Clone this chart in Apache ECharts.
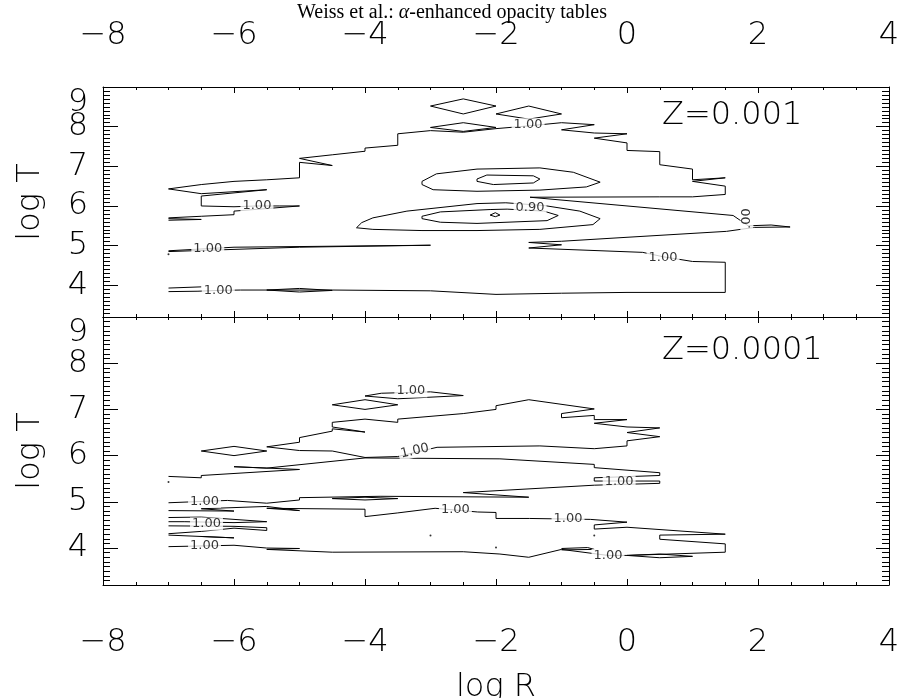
<!DOCTYPE html>
<html><head><meta charset="utf-8">
<script src="https://cdn.jsdelivr.net/npm/echarts@6/dist/echarts.min.js"></script>
<style>html,body{margin:0;padding:0;background:#fff}#c{width:902px;height:698px}</style>
</head><body><div id="c"></div>
<script>
// ---------- axis ticks ----------
const yMajorTicks = [4, 5, 6, 7, 8, 9];
const yLabelTicks = [4, 5, 6, 7, 8];
const yTopLabel = [9];
const panelTitles = ['Z=0.001', 'Z=0.0001'];

// ---------- TOP PANEL (Z=0.001) contour paths [log R, log T] ----------
const topOuter = [[-7.0,6.43],[-6.5,6.54],[-6.0,6.62],[-5.5,6.66],[-5.0,6.71],[-5.0,7.10],[-4.5,7.02],[-5.0,7.20],[-4.5,7.29],[-4.0,7.38],[-4.0,7.46],[-3.5,7.53],[-3.5,7.82],[-3.0,7.90],[-2.5,7.86],[-2.0,7.95],[-1.5,8.02],[-1.0,8.10],[-0.5,8.05],[-1.0,7.92],[-0.5,7.84],[0.0,7.82],[-0.5,7.71],[0.0,7.59],[0.0,7.40],[0.5,7.37],[0.5,7.04],[1.0,6.93],[1.0,6.66],[1.5,6.71],[1.0,6.62],[1.5,6.50],[1.5,6.29],[1.0,6.23],[0.5,6.23],[-1.48,6.22],[-1.5,6.20],[1.62,5.76],[1.85,5.50],[2.2,5.52],[2.49,5.47],[1.95,5.46],[1.52,5.36],[1.5,5.32],[0.0,5.21],[0.0,5.16],[-1.0,5.11],[-1.5,5.08],[-1.0,5.02],[-1.5,4.94],[0.24,4.83],[0.55,4.72],[1.0,4.60],[1.5,4.58],[1.5,3.82],[0.0,3.82],[-1.0,3.80],[-2.0,3.77],[-3.0,3.86],[-4.5,3.88],[-5.9,3.88],[-6.24,3.87],[-6.55,3.85],[-7.0,3.84]];
const topLeft = [[-7.0,6.43],[-6.5,6.31],[-5.5,6.41],[-6.5,6.25],[-6.5,6.0],[-6.0,5.98],[-5.65,6.0],[-5.3,6.0],[-5.0,6.0],[-6.0,5.87],[-6.0,5.78],[-6.5,5.74],[-7.0,5.70]];
const topLeft2 = [[-7.0,5.68],[-6.5,5.66],[-7.0,5.64]];
const topBottomLeft = [[-7.0,3.93],[-6.5,3.96]];
const top5 = [[-7.0,4.87],[-6.0,4.96],[-3.0,5.01],[-5.0,4.96],[-7.0,4.85]];
const topLens = [[-5.5,3.88],[-5.0,3.92],[-4.5,3.87],[-5.0,3.83],[-5.5,3.88]];
const topD1 = [[-3.0,8.52],[-2.5,8.70],[-2.0,8.52],[-2.5,8.32],[-3.0,8.52]];
const topD2 = [[-2.0,8.32],[-1.5,8.52],[-1.0,8.32],[-1.5,8.19],[-2.0,8.32]];
const topD3 = [[-3.0,7.98],[-2.5,8.10],[-2.0,7.98],[-2.5,7.88],[-3.0,7.98]];
const topEllA = [[-3.13,6.62],[-2.91,6.81],[-2.29,6.93],[-1.33,6.96],[-0.82,6.85],[-0.41,6.60],[-0.62,6.48],[-1.33,6.40],[-2.29,6.37],[-2.96,6.41],[-3.13,6.54],[-3.13,6.62]];
const topHexB = [[-2.29,6.68],[-2.14,6.78],[-1.43,6.76],[-1.33,6.68],[-1.43,6.58],[-2.04,6.54],[-2.29,6.62],[-2.29,6.68]];
const topEllC = [[-4.13,5.45],[-4.05,5.58],[-3.88,5.70],[-3.36,5.87],[-2.29,6.06],[-1.85,6.08],[-1.26,6.01],[-0.72,5.87],[-0.41,5.68],[-0.52,5.53],[-1.33,5.41],[-2.29,5.38],[-3.13,5.38],[-3.88,5.41],[-4.13,5.45]];
const topEllD = [[-3.13,5.74],[-2.85,5.85],[-2.09,5.91],[-1.83,5.92],[-1.27,5.87],[-1.05,5.76],[-1.22,5.63],[-2.29,5.56],[-2.85,5.59],[-3.13,5.68],[-3.13,5.74]];
const topLensE = [[-2.09,5.77],[-2.01,5.83],[-1.94,5.77],[-2.01,5.73],[-2.09,5.77]];
const topDots = [[-7.0,4.78]];
const topLabels = [[-1.51,8.05,'1.00'],[-5.65,6.0,'1.00'],[-1.48,5.96,'0.90'],[-6.4,4.92,'1.00'],[0.55,4.70,'1.00'],[-6.24,3.87,'1.00']];
const topRotLabels = [[1.83,5.68,'.00']];

// ---------- BOTTOM PANEL (Z=0.0001) contour paths ----------
const botD1 = [[-6.5,6.10],[-6.0,6.20],[-5.5,6.10],[-6.0,6.0],[-6.5,6.10]];
const botD2 = [[-4.5,7.10],[-4.0,7.21],[-3.5,7.10],[-4.0,7.0],[-4.5,7.10]];
const botD3 = [[-4.0,7.29],[-3.75,7.35],[-3.0,7.38],[-2.5,7.30],[-3.5,7.23],[-4.0,7.29]];
const botLoop = [[-5.5,6.19],[-5.0,6.29],[-5.0,6.39],[-4.5,6.53],[-4.5,6.58],[-4.0,6.51],[-4.5,6.62],[-4.5,6.72],[-4.0,6.79],[-3.5,6.72],[-3.5,6.79],[-2.5,6.91],[-2.0,7.0],[-2.0,7.08],[-1.5,7.21],[-0.5,7.01],[-1.0,6.91],[-1.0,6.82],[-0.5,6.87],[-0.5,6.78],[0.0,6.78],[-0.5,6.70],[0.0,6.62],[0.5,6.60],[0.0,6.50],[0.5,6.41],[0.0,6.32],[0.0,6.21],[-0.5,6.15],[-1.33,6.21],[-2.9,6.18],[-3.5,5.98],[-4.0,5.96],[-4.5,6.10],[-5.0,6.11],[-5.5,6.19]];
const botP = [[-4.0,5.95],[-5.5,5.73],[-6.0,5.76],[-5.0,5.70],[-6.5,5.57],[-6.5,5.52],[-7.0,5.55]];
const botQ = [[-4.0,5.95],[-1.94,5.93],[-0.5,5.81],[-0.5,5.74],[0.5,5.63],[0.5,5.57],[-0.5,5.52],[-0.5,5.45],[0.5,5.45],[0.5,5.40],[-0.5,5.36],[-2.5,5.20],[-1.5,5.10],[-3.77,5.12],[-5.0,5.09],[-5.0,5.04],[-5.5,4.97],[-6.1,5.03],[-7.0,4.98]];
const botLens1 = [[-4.5,5.07],[-4.0,5.10],[-3.5,5.07],[-4.0,5.04],[-4.5,5.07]];
const botM2 = [[-7.0,4.81],[-6.0,4.80],[-6.5,4.85],[-5.5,4.90],[-5.0,4.81],[-5.5,4.86],[-4.0,4.84],[-4.0,4.68],[-3.5,4.76],[-3.5,4.80],[-2.93,4.86],[-2.28,4.78],[-2.0,4.77],[-2.0,4.64],[-1.49,4.64],[-0.56,4.62],[0.0,4.56],[-0.5,4.50],[-0.5,4.41],[0.0,4.45],[1.5,4.30],[0.5,4.28],[0.5,4.19],[1.5,4.09],[1.5,3.91],[0.0,3.84],[-0.29,3.84],[-1.0,3.97],[-1.5,3.80],[-1.94,3.87],[-2.5,3.92],[-4.5,3.91],[-5.5,3.97],[-5.0,3.99],[-5.5,4.0],[-6.0,4.06],[-7.0,4.03]];
const botLens2 = [[0.0,3.84],[0.5,3.87],[1.0,3.82],[0.5,3.79],[0.0,3.84]];
const botLens3 = [[-1.0,3.99],[-0.6,4.01],[-0.5,3.97],[-1.0,3.96]];
const botN1 = [[-7.0,4.66],[-6.5,4.67],[-5.5,4.57],[-6.0,4.55],[-6.75,4.57],[-7.0,4.57]];
const botN2 = [[-7.0,4.48],[-6.0,4.47],[-5.5,4.44],[-5.5,4.38],[-6.0,4.43],[-6.5,4.36],[-7.0,4.31]];
const botN3 = [[-7.0,4.28],[-6.0,4.22],[-6.5,4.25]];
const botDots = [[-7.0,5.43],[-3.0,4.27],[-2.0,4.01],[-0.5,4.27]];
const botLabels = [[-3.3,7.40,'1.00'],[-0.12,5.43,'1.00'],[-6.45,5.01,'1.00'],[-6.42,4.52,'1.00'],[-2.62,4.83,'1.00'],[-0.9,4.63,'1.00'],[-0.29,3.84,'1.00'],[-6.45,4.05,'1.00']];
const botRotLabels = [[-3.24,6.10,'1.00']];

const topPaths = [topOuter, topLeft, topLeft2, topBottomLeft, top5, topLens, topD1, topD2, topD3, topEllA, topHexB, topEllC, topEllD, topLensE];
const botPaths = [botD1, botD2, botD3, botLoop, botP, botQ, botLens1, botM2, botLens2, botLens3, botN1, botN2, botN3];

const FONT = "'DejaVu Sans', sans-serif";
const FW = 200;

function minusFmt(v){ return (v < 0 ? '\u2212' : '') + Math.abs(v); }

function xAxis(grid, pos, showLabel, margin, extra){
  return Object.assign({
    type:'value', gridIndex:grid, position:pos, min:-8, max:4, interval:2,
    axisLine:{show:true, onZero:false, lineStyle:{color:'#000', width:1}},
    axisTick:{show:true, inside:true, length:6, lineStyle:{color:'#000', width:1}},
    minorTick:{show:true, splitNumber:4, length:3, lineStyle:{color:'#000', width:1}},
    splitLine:{show:false}, minorSplitLine:{show:false},
    axisLabel:{show:showLabel, formatter:minusFmt, margin:margin, showMinLabel:true, showMaxLabel:true, color:'#000', fontFamily:FONT, fontWeight:FW, fontSize:32}
  }, extra||{});
}
function yMajor(grid, pos, showLabel, extra){
  return Object.assign({
    type:'value', gridIndex:grid, position:pos, min:3.2, max:9,
    axisLine:{show:true, onZero:false, lineStyle:{color:'#000', width:1}},
    axisTick:{show:true, inside:true, length: pos==='left'?15:13, customValues:yMajorTicks, lineStyle:{color:'#000', width:1}},
    splitLine:{show:false},
    axisLabel:{show:showLabel, customValues:yLabelTicks, margin:15, showMinLabel:true, showMaxLabel:true,
      color:'#000', fontFamily:FONT, fontWeight:FW, fontSize:32}
  }, extra||{});
}
function yTop(grid){
  return {
    type:'value', gridIndex:grid, position:'left', min:3.2, max:9,
    axisLine:{show:false, onZero:false}, splitLine:{show:false}, axisTick:{show:false},
    axisLabel:{show:true, customValues:yTopLabel, verticalAlign:'top', margin:15, showMaxLabel:true,
      color:'#000', fontFamily:FONT, fontWeight:FW, fontSize:32}
  };
}
function yMinor(grid, pos){
  return {
    type:'value', gridIndex:grid, position:pos, min:3.2, max:9, interval:0.1,
    axisLine:{show:false, onZero:false}, splitLine:{show:false},
    axisTick:{show:true, inside:true, length:7, lineStyle:{color:'#000', width:1}},
    axisLabel:{show:false}
  };
}

const nameStyle = {color:'#000', fontFamily:FONT, fontWeight:FW, fontSize:32};

const option = {
  animation:false,
  backgroundColor:'#fff',
  grid:[
    {left:103, top:87, width:786, height:230, outerBoundsMode:'none', containLabel:false},
    {left:103, top:317, width:786, height:268, outerBoundsMode:'none', containLabel:false}
  ],
  xAxis:[
    xAxis(0,'top',true,35),
    xAxis(0,'bottom',false,35),
    xAxis(1,'top',false,35),
    xAxis(1,'bottom',true,42,{name:'log R', nameLocation:'middle', nameGap:87, nameTextStyle:nameStyle})
  ],
  yAxis:[
    yMajor(0,'left',true,{name:'log T', nameLocation:'middle', nameGap:56, nameTextStyle:nameStyle}),
    yMinor(0,'left'),
    yMajor(0,'right',false),
    yMinor(0,'right'),
    yMajor(1,'left',true,{name:'log T', nameLocation:'middle', nameGap:56, nameTextStyle:nameStyle}),
    yMinor(1,'left'),
    yMajor(1,'right',false),
    yMinor(1,'right'),
    yTop(0),
    yTop(1)
  ],
  graphic:[
    {type:'text', x:452, y:13, style:{text:'Weiss et al.: {a|\u03b1}-enhanced opacity tables', fill:'#000', font:"20px 'Liberation Serif', serif", textAlign:'center', textVerticalAlign:'middle', rich:{a:{fontStyle:'italic', fontFamily:"'Liberation Serif', serif", fontSize:20, fill:'#000'}}}},
    {type:'text', x:662, y:116, style:{text:panelTitles[0], fill:'#000', font:FW+" 32px 'DejaVu Sans', sans-serif", textVerticalAlign:'middle'}},
    {type:'text', x:662, y:351, style:{text:panelTitles[1], fill:'#000', font:FW+" 32px 'DejaVu Sans', sans-serif", textVerticalAlign:'middle'}}
  ],
  series:[]
};

function lineS(data, xi, yi){
  return {type:'line', xAxisIndex:xi, yAxisIndex:yi, data:data, symbol:'none', silent:true,
    lineStyle:{color:'#000', width:1}, z:3, clip:false};
}
function labelS(data, xi, yi, rot){
  return {type:'scatter', xAxisIndex:xi, yAxisIndex:yi, data:data, symbolSize:1, silent:true,
    itemStyle:{color:'rgba(0,0,0,0)'}, z:5,
    label:{show:true, position:'inside', formatter:function(p){return p.data[2];}, rotate:rot||0,
      color:'#000', fontFamily:FONT, fontWeight:'normal', fontSize:13, backgroundColor:'#fff', padding:[0,2]}};
}
function dotS(data, xi, yi){
  return {type:'scatter', xAxisIndex:xi, yAxisIndex:yi, data:data, symbolSize:2, silent:true,
    itemStyle:{color:'#000'}, z:4};
}

topPaths.forEach(function(p){ option.series.push(lineS(p,0,0)); });
botPaths.forEach(function(p){ option.series.push(lineS(p,3,4)); });
option.series.push(dotS(topDots,0,0));
option.series.push(dotS(botDots,3,4));
option.series.push(labelS(topLabels,0,0,0));
option.series.push(labelS(topRotLabels,0,0,90));
option.series.push(labelS(botLabels,3,4,0));
option.series.push(labelS(botRotLabels,3,4,13));

const chart = echarts.init(document.getElementById('c'), null, {renderer:'canvas'});
chart.setOption(option);
</script>
</body></html>
